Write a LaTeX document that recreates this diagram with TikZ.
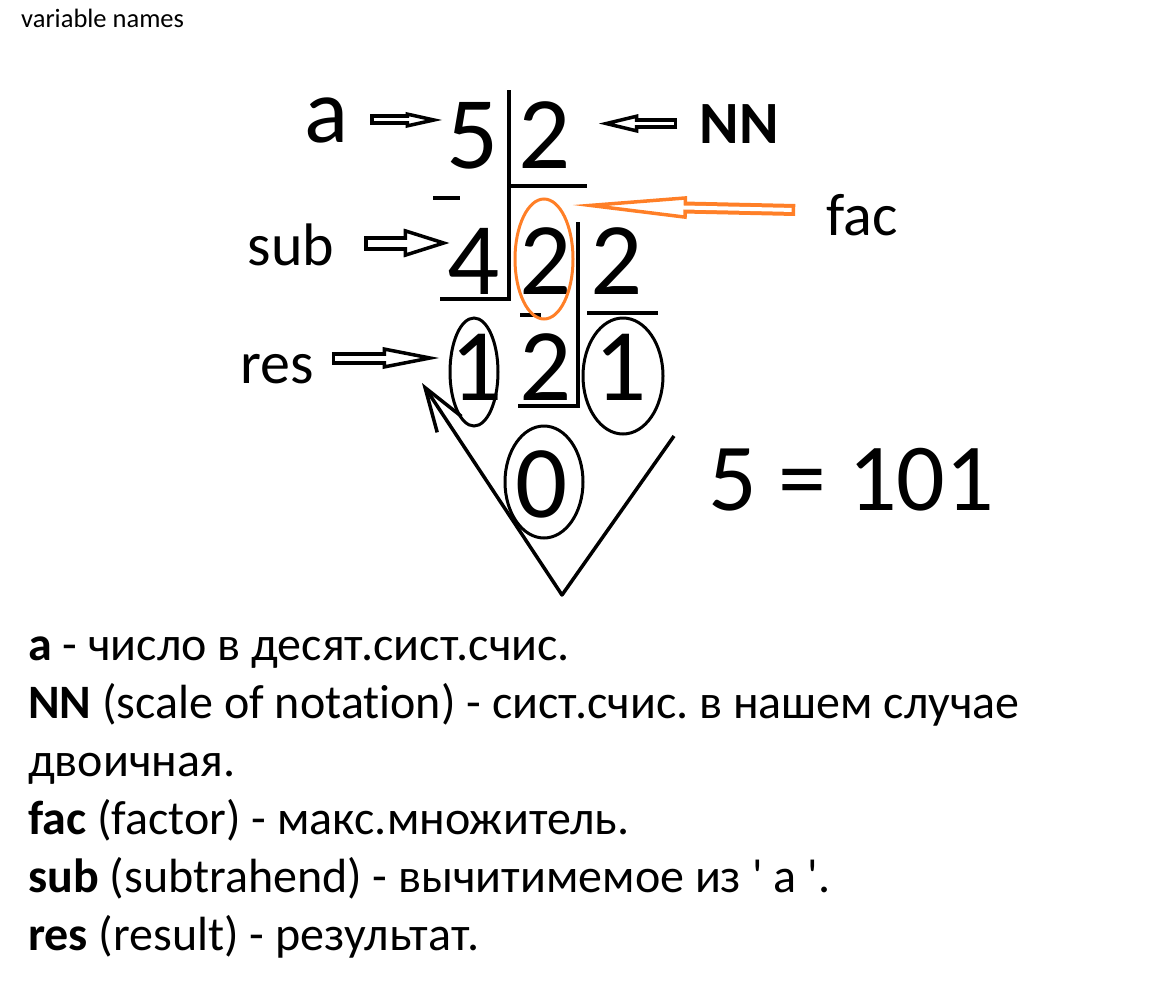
\documentclass[tikz,border=0pt]{standalone}
\usepackage{fontspec}
\setmainfont{Carlito}[Ligatures={NoCommon}]
\usetikzlibrary{arrows.meta, positioning, calc, shapes.geometric}
\definecolor{ink}   {HTML}{000000}
\definecolor{marker}{HTML}{FF7F27}
\frenchspacing

\begin{document}
\begin{tikzpicture}[x=1pt, y=-1pt,
    digit/.style={inner sep=0pt, anchor=base, text=ink, font=\fontsize{103}{103}\selectfont},
    varname/.style={inner sep=0pt, anchor=base, text=ink, font=\fontsize{60}{60}\selectfont},
    note/.style={inner sep=0pt, anchor=base west, text=ink, font=\fontsize{48}{58}\selectfont},
    divline/.style={ink, line width=4.5pt},
    ring/.style={ellipse, draw=ink, line width=3pt, inner sep=0pt},
    % outlined arrow: colour, shaft width, white core, head length, head width
    hollow/.style n args={5}{draw=#1, line width=#2,
      -{Triangle[open, length=#4, width=#5, line width=3.5pt]},
      postaction={draw=white, -, line width=#3, shorten <=3.5pt, shorten >={#4-6pt}}},
  ]
    \useasboundingbox (0,0) rectangle (1152,1004);

    \node[anchor=base west, inner sep=0pt, font=\fontsize{26.5}{26.5}\selectfont] (title) at (21,27) {variable names};

    % the division 5 : 2
    \node[digit] (five)  at (473,168) {5};
    \node[digit] (two)   at (545,168) {2};
    \node[digit] (four)  at (474,294) {4};
    \node[digit] (fac2)  at (546,294) {2};
    \node[digit] (quo1)  at (617,294) {2};
    \node[digit] (res1)  at (477,400) {1};
    \node[digit] (rem2)  at (546,400) {2};
    \node[digit] (quo2)  at (621,400) {1};
    \node[digit] (zero)  at (542,517) {0};

    \draw[divline] (509,90) -- (509,300);
    \draw[divline] (509,186) -- (587,186);
    \draw[divline] (433,198) -- (460,198);
    \draw[divline] (440,299) -- (511,299);
    \draw[divline] (578,222) -- (578,406) -- (518,406);
    \draw[divline] (587,313) -- (658,313);
    \draw[divline] (520,315) -- (541,315);

    \node[ring, draw=marker, minimum width=58pt, minimum height=120pt] (facring) at (544,259) {};
    \node[ring, minimum width=48pt, minimum height=108pt] (resring) at (474,372) {};
    \node[ring, minimum width=80pt, minimum height=116pt] (quoring) at (623,376) {};
    \node[ring, minimum width=78pt, minimum height=112pt] (zeroring) at (544,482) {};

    % names of the variables
    \node[inner sep=0pt, anchor=base, font=\fontsize{92}{92}\selectfont] (a) at (327,142) {a};
    \node[inner sep=0pt, anchor=base, font=\bfseries\fontsize{60}{60}\selectfont] (NN) at (739,143) {NN};
    \node[varname] (sub) at (291,265) {sub};
    \node[varname] (fac) at (862,235) {fac};
    \node[varname] (res) at (277,383) {res};

    \draw[hollow={ink}{11pt}{3pt}{37pt}{15pt}] ([xshift=21pt]a.east) -- ([xshift=-4pt]a.east -| five.west);
    \draw[hollow={ink}{11pt}{3pt}{40pt}{18pt}] ([xshift=-22pt]NN.west) -- ([xshift=27pt]NN.west -| two.east);
    \draw[hollow={ink}{15pt}{7pt}{46pt}{28pt}] ([xshift=30pt, yshift=22pt]sub.base east) -- ([xshift=2pt, yshift=22pt]sub.base east -| four.west);
    \draw[hollow={ink}{13pt}{5pt}{57pt}{21pt}] ([xshift=18pt, yshift=25pt]res.base east) -- ([xshift=-11pt, yshift=25pt]res.base east -| res1.west);
    \draw[hollow={marker}{12pt}{4pt}{115pt}{22pt}] ([xshift=-31pt, yshift=25pt]fac.base west) -- ($(facring.center)+(28,-54)$);

    % the remainders are read from the bottom up
    \coordinate (vtop) at (674,436);
    \coordinate (vbot) at (562,595);
    \coordinate (vtip) at (422,383);
    \draw[ink, line width=3.5pt, line join=round, -{Straight Barb[length=44pt, width=29pt]}] (vtop) -- (vbot) -- (vtip);

    \node[inner sep=0pt, anchor=base west, font=\fontsize{96}{96}\selectfont] (answer) at (708,510) {5 = 101};

    % legend
    \node[note] (la)   at (28,660) {\textbf{a} - число в десят.сист.счис.};
    \node[note] (lnn)  at (28,718) {\textbf{NN} (scale of notation) - сист.счис. в нашем случае};
    \node[note] (lnn2) at (28,776) {двоичная.};
    \node[note] (lfac) at (28,834) {\textbf{fac} (factor) - макс.множитель.};
    \node[note] (lsub) at (28,892) {\textbf{sub} (subtrahend) - вычитимемое из \textquotesingle\ a \textquotesingle.};
    \node[note] (lres) at (28,950) {\textbf{res} (result) - результат.};
  \end{tikzpicture}
\end{document}
